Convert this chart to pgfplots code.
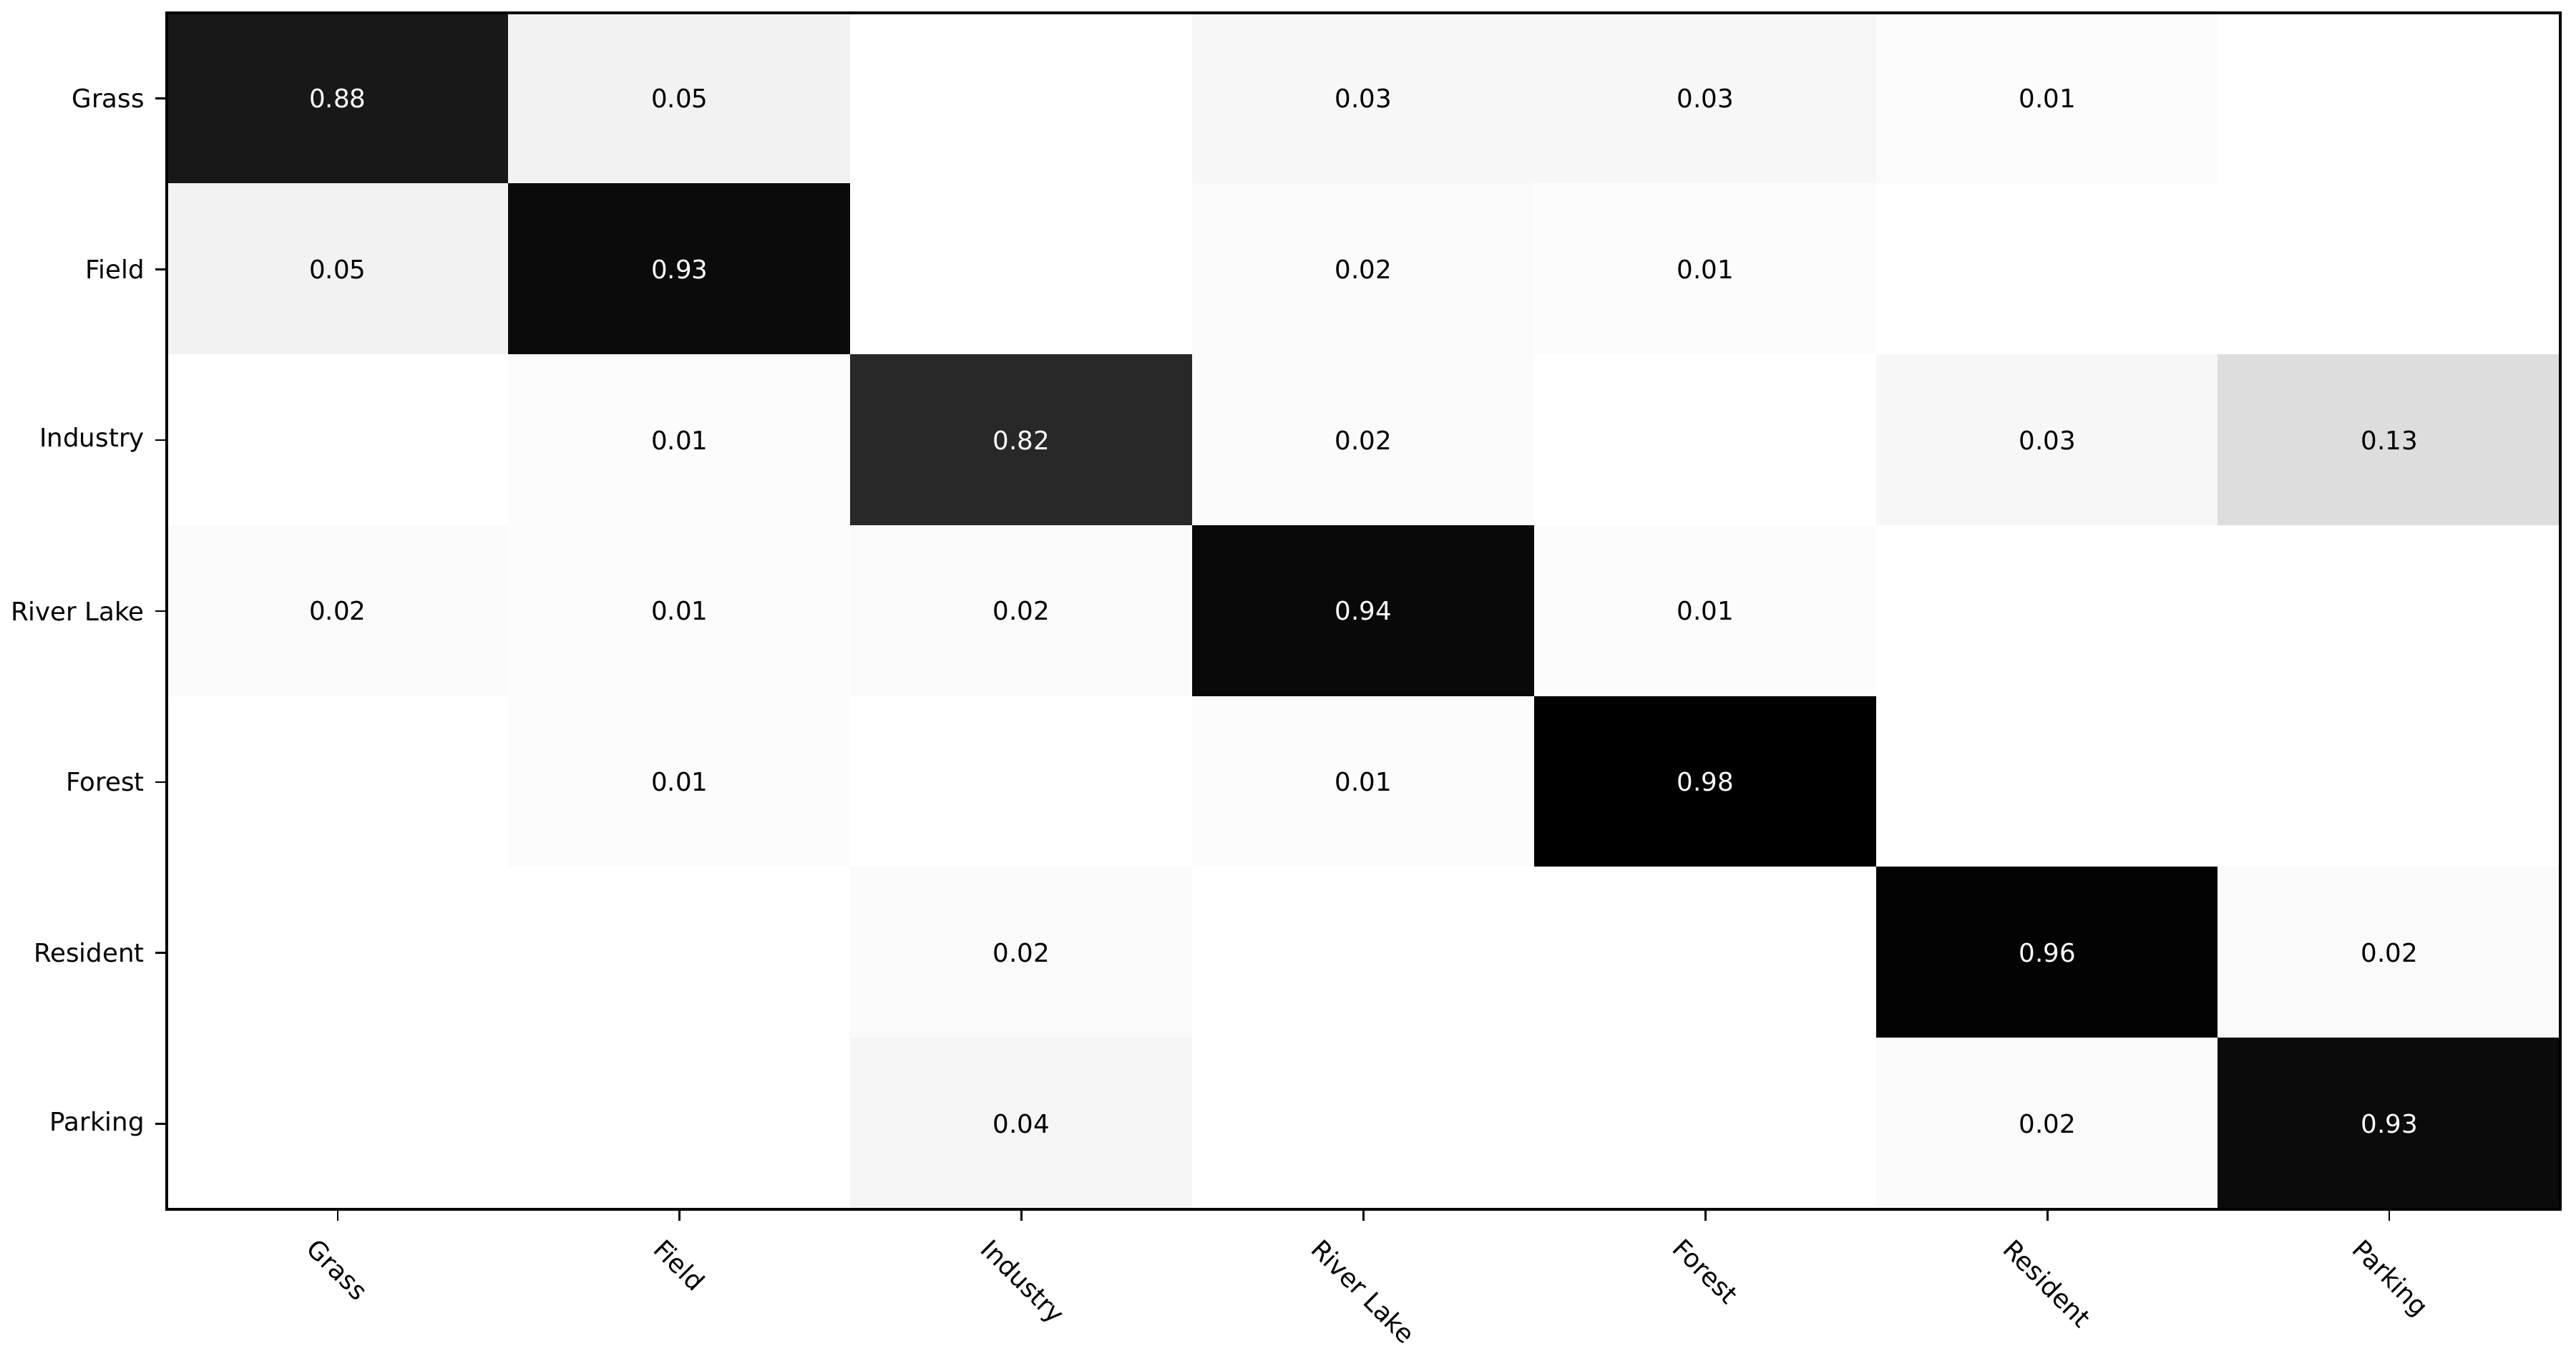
\documentclass[border=0pt]{standalone}
\usepackage{fontspec}
\setmainfont{DejaVu Sans}
\usepackage{graphicx}
\usepackage{pgfplots}
\pgfplotsset{compat=1.18}
\usepackage{pgfplotstable}

% confusion matrix: x = predicted, y = true (row 0 at top)
\pgfplotstableread{
x y v
0 0 0.88
1 0 0.05
2 0 0
3 0 0.03
4 0 0.03
5 0 0.01
6 0 0
0 1 0.05
1 1 0.93
2 1 0
3 1 0.02
4 1 0.01
5 1 0
6 1 0
0 2 0
1 2 0.01
2 2 0.82
3 2 0.02
4 2 0
5 2 0.03
6 2 0.13
0 3 0.02
1 3 0.01
2 3 0.02
3 3 0.94
4 3 0.01
5 3 0
6 3 0
0 4 0
1 4 0.01
2 4 0
3 4 0.01
4 4 0.98
5 4 0
6 4 0
0 5 0
1 5 0
2 5 0.02
3 5 0
4 5 0
5 5 0.96
6 5 0.02
0 6 0
1 6 0
2 6 0.04
3 6 0
4 6 0
5 6 0.02
6 6 0.93
}\cmtable

\newcommand{\rl}[1]{\rotatebox{-45}{#1}}

\pgfplotsset{
  cmlabel/.style={draw=none, mark=none,
    point meta=explicit,
    nodes near coords={\pgfmathprintnumber[fixed,fixed zerofill,precision=2,assume math mode=true]{\pgfplotspointmeta}},
    nodes near coords style={anchor=center, inner sep=0pt, text=#1}},
}

\begin{document}
\begin{tikzpicture}[font=\fontsize{9.9}{11.9}\selectfont]
\useasboundingbox (-64.7pt,-55pt) rectangle (935.3pt,469.4pt);
\begin{axis}[
  at={(0pt,0pt)}, anchor=south west,
  scale only axis, width=929.2pt, height=464.4pt,
  xmin=-0.5, xmax=6.5, ymin=-0.5, ymax=6.5, y dir=reverse,
  xtick={0,...,6}, ytick={0,...,6},
  xticklabels={\rl{Grass},\rl{Field},\rl{Industry},\rl{River Lake},\rl{Forest},\rl{Resident},\rl{Parking}},
  yticklabels={Grass,Field,Industry,River Lake,Forest,Resident,Parking},
  xtick pos=left, ytick pos=left, tick align=outside,
  major tick length=4.5pt,
  tick style={black, line width=0.7pt},
  axis line style={line width=1.2pt},
  axis on top,
  xticklabel style={anchor=north, yshift=-2.8pt},
  yticklabel style={anchor=east, xshift=-0.6pt},
  colormap={wb}{color(0cm)=(white) color(1cm)=(black)},
  point meta min=0, point meta max=0.98,
]
\addplot[matrix plot*, mesh/cols=7, point meta=explicit] table[meta=v] {\cmtable};
% labels on dark cells
\addplot[cmlabel=white, restrict expr to domain={\thisrow{v}}{0.5:1}] table[meta=v] {\cmtable};
% labels on light cells
\addplot[cmlabel=black, restrict expr to domain={\thisrow{v}}{0.005:0.5}] table[meta=v] {\cmtable};
\end{axis}
\end{tikzpicture}
\end{document}
